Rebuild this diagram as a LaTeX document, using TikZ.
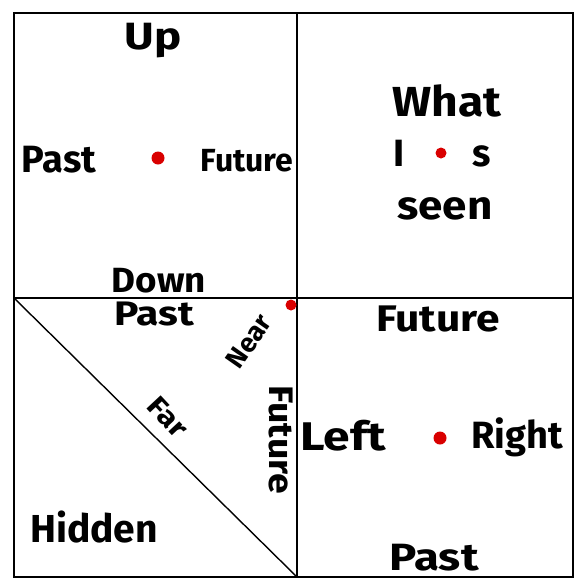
\documentclass[tikz,border=0pt]{standalone}
\usepackage{fontspec}
\setmainfont{Fira Sans}
\begin{document}
\begin{tikzpicture}[x=1pt,y=-1pt,
  txt/.style={inner sep=0pt,font=\fontsize{#1}{#1}\selectfont\bfseries},
  reddot/.style={circle,fill=red!85!black,inner sep=0pt,minimum size=#1},
  reddot/.default=13pt,
  frame/.style={line width=2.2pt,black},
  thinline/.style={line width=1.4pt,black}]
\useasboundingbox[fill=white] (0,0) rectangle (576,581);
% grid corners
\coordinate (tl) at (14,13);
\coordinate (tr) at (573,13);
\coordinate (bl) at (14,577);
\coordinate (br) at (573,577);
\coordinate (tm) at (297,13);
\coordinate (bm) at (297,577);
\coordinate (ml) at (14,298);
\coordinate (mr) at (573,298);
\draw[frame] (tl) -- (tr) -- (br) -- (bl) -- cycle;
\draw[thinline] (tm) -- (bm);
\draw[thinline] (ml) -- (mr);
\draw[thinline] (ml) -- (bm);
% top-left
\node[txt=38,xscale=1.2] (up) at (153,41) {Up};
\node[txt=38] (pastA) at (59,160) {Past};
\node[reddot] (dotA) at (158,158) {};
\node[txt=32] (futA) at (247,161) {Future};
\node[txt=35,xscale=1.05] (down) at (159,281) {Down};
% top-right
\node[txt=42,xscale=1.1] (what) at (447,101) {What};
\node[txt=38] (iA) at (399,153) {I};
\node[reddot=11pt] (dotB) at (441,153) {};
\node[txt=38] (sA) at (482,156) {s};
\node[txt=40,xscale=1.1] (seen) at (445,209) {seen};
% bottom-left
\node[txt=34,xscale=1.2] (pastB) at (154,314) {Past};
\node[reddot=11pt] (dotC) at (291,305) {};
\node[txt=27,rotate=55] (near) at (249,341) {Near};
\node[txt=34,rotate=-90,xscale=1.1] (futB) at (281,440) {Future};
\node[txt=28,rotate=-47,xscale=1.15] (far) at (168,417) {Far};
\node[txt=39] (hidden) at (94,527) {Hidden};
% bottom-right
\node[txt=37,xscale=1.15] (futC) at (438,319) {Future};
\node[txt=40,xscale=1.2] (left) at (343,436) {Left};
\node[reddot] (dotD) at (440,438) {};
\node[txt=38] (right) at (517,437) {Right};
\node[txt=38,xscale=1.2] (pastC) at (434,558) {Past};
\end{tikzpicture}
\end{document}
